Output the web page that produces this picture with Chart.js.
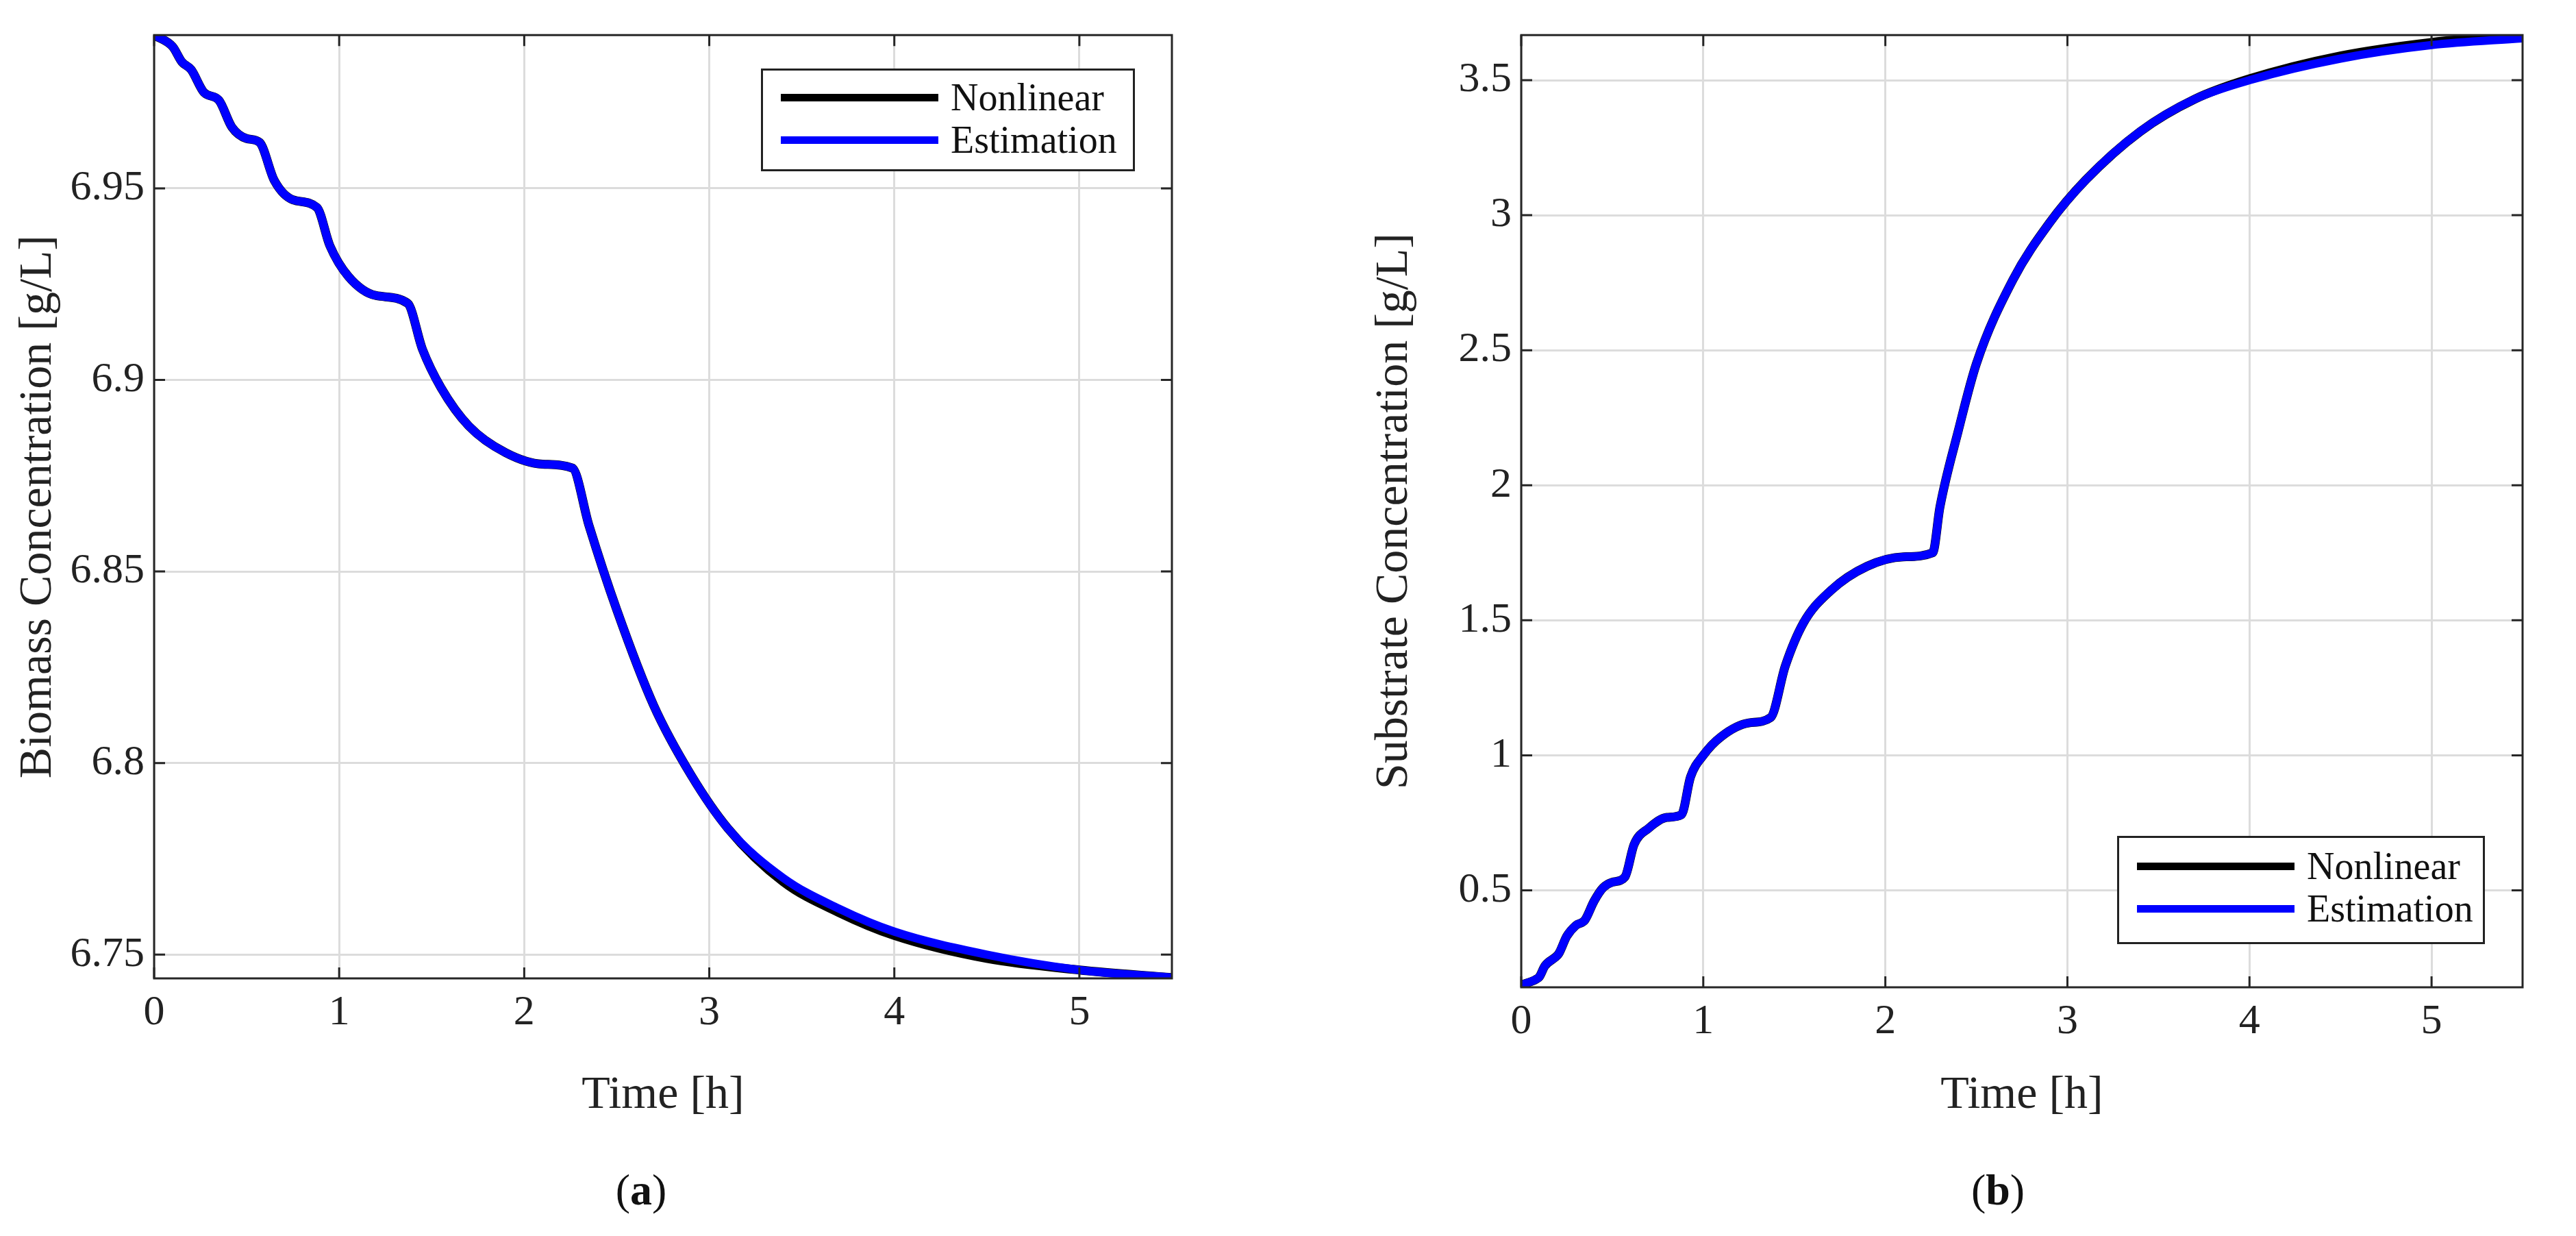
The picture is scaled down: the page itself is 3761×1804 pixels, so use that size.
<!DOCTYPE html>
<html>
<head>
<meta charset="utf-8">
<script src="https://cdn.jsdelivr.net/npm/chart.js@4.4.1/dist/chart.umd.min.js"></script>
<style>
  body { margin: 0; background: #fff; width: 3761px; height: 1804px; position: relative; overflow: hidden; font-family: "Liberation Serif", serif; }
  .box { position: absolute; }
  .legend { position: absolute; border: 3px solid #222; background: #fff; font-size: 56px; color: #111; }
  .legend div { display: flex; align-items: center; height: 62px; }
  .legend span.ln { display: inline-block; width: 230px; height: 11px; margin: 0 18px 0 26px; }
  .cap { position: absolute; font-size: 64px; color: #111; transform: translateX(-50%); }
</style>
</head>
<body>
<div class="box" id="boxA" style="left:0;top:0;width:1800px;height:1640px"><canvas id="chartA"></canvas></div>
<div class="box" id="boxB" style="left:1880px;top:0;width:1881px;height:1640px"><canvas id="chartB"></canvas></div>

<div class="legend" style="left:1111px;top:100px;width:546px;height:150px;padding-top:8px;box-sizing:border-box">
  <div><span class="ln" style="background:#000"></span>Nonlinear</div>
  <div><span class="ln" style="background:#0000ff"></span>Estimation</div>
</div>
<div class="legend" style="left:3091px;top:1220px;width:537px;height:158px;padding-top:10px;box-sizing:border-box">
  <div><span class="ln" style="background:#000"></span>Nonlinear</div>
  <div><span class="ln" style="background:#0000ff"></span>Estimation</div>
</div>
<div class="cap" style="left:936px;top:1700px">(<b>a</b>)</div>
<div class="cap" style="left:2917px;top:1700px">(<b>b</b>)</div>

<script>
const serif = "'Liberation Serif', 'Times New Roman', serif";

// Time points [h]
const timeA = [0, 0.1, 0.15, 0.2, 0.27, 0.35, 0.42, 0.5, 0.57, 0.65, 0.75, 0.88, 0.95, 1.05, 1.2, 1.37,
  1.45, 1.55, 1.7, 1.9, 2.1, 2.26, 2.35, 2.5, 2.7, 2.9, 3.1, 3.4, 3.7, 4.0, 4.5, 5.0, 5.5];
const biomassNonlinear = [6.990, 6.987, 6.983, 6.981, 6.975, 6.973, 6.966, 6.963, 6.962, 6.952, 6.947, 6.945,
  6.935, 6.927, 6.922, 6.920, 6.908, 6.898, 6.888, 6.881, 6.878, 6.877, 6.862, 6.840, 6.815, 6.797, 6.783,
  6.769, 6.761, 6.755, 6.749, 6.746, 6.744];
const biomassEstimation = [6.990, 6.987, 6.983, 6.981, 6.975, 6.973, 6.966, 6.963, 6.962, 6.952, 6.947, 6.945,
  6.935, 6.927, 6.922, 6.920, 6.908, 6.898, 6.888, 6.881, 6.878, 6.877, 6.862, 6.840, 6.815, 6.797, 6.783,
  6.770, 6.762, 6.756, 6.750, 6.746, 6.744];

const timeB = [0, 0.08, 0.1, 0.13, 0.2, 0.21, 0.25, 0.3, 0.35, 0.4, 0.45, 0.5, 0.57, 0.62, 0.7, 0.8, 0.88,
  0.93, 1.0, 1.1, 1.25, 1.37, 1.45, 1.55, 1.7, 1.9, 2.1, 2.26, 2.3, 2.4, 2.5, 2.7, 2.9, 3.1, 3.4, 3.7, 4.0, 4.5, 5.0, 5.5];
const substrateNonlinear = [0.15, 0.17, 0.18, 0.22, 0.26, 0.27, 0.33, 0.37, 0.39, 0.46, 0.51, 0.53, 0.55,
  0.67, 0.73, 0.77, 0.78, 0.92, 1.00, 1.07, 1.12, 1.14, 1.33, 1.49, 1.61, 1.70, 1.735, 1.75, 1.92, 2.2, 2.45,
  2.76, 2.97, 3.13, 3.31, 3.43, 3.505, 3.59, 3.64, 3.67];
const substrateEstimation = [0.15, 0.17, 0.18, 0.22, 0.26, 0.27, 0.33, 0.37, 0.39, 0.46, 0.51, 0.53, 0.55,
  0.67, 0.73, 0.77, 0.78, 0.92, 1.00, 1.07, 1.12, 1.14, 1.33, 1.49, 1.61, 1.70, 1.735, 1.75, 1.92, 2.2, 2.45,
  2.76, 2.97, 3.13, 3.31, 3.43, 3.50, 3.58, 3.63, 3.655];

const xTicks = [0, 1, 2, 3, 4, 5];
const yTicksA = [6.75, 6.8, 6.85, 6.9, 6.95];
const yTicksB = [0.5, 1, 1.5, 2, 2.5, 3, 3.5];

const toXY = (xs, ys) => xs.map((x, i) => ({ x: x, y: ys[i] }));

// draws full box frame with inward ticks like MATLAB
const framePlugin = {
  id: 'frame',
  afterDatasetsDraw(chart) {
    const { ctx, chartArea: a, scales } = chart;
    ctx.save();
    ctx.strokeStyle = '#262626';
    ctx.lineWidth = 3;
    ctx.strokeRect(a.left, a.top, a.right - a.left, a.bottom - a.top);
    ctx.beginPath();
    scales.x.ticks.forEach(t => {
      const px = scales.x.getPixelForValue(t.value);
      ctx.moveTo(px, a.bottom); ctx.lineTo(px, a.bottom - 16);
      ctx.moveTo(px, a.top); ctx.lineTo(px, a.top + 16);
    });
    scales.y.ticks.forEach(t => {
      const py = scales.y.getPixelForValue(t.value);
      ctx.moveTo(a.left, py); ctx.lineTo(a.left + 16, py);
      ctx.moveTo(a.right, py); ctx.lineTo(a.right - 16, py);
    });
    ctx.stroke();
    ctx.restore();
  }
};

function makeChart(id, time, nonlin, est, yMin, yMax, yTicks, yTitle, yWidth, xHeight, pad) {
  return new Chart(document.getElementById(id), {
    type: 'line',
    data: {
      datasets: [
        { label: 'Estimation', data: toXY(time, est), borderColor: '#0000ff', borderWidth: 12, pointRadius: 0, cubicInterpolationMode: 'monotone', order: 1 },
        { label: 'Nonlinear', data: toXY(time, nonlin), borderColor: '#000000', borderWidth: 13, pointRadius: 0, cubicInterpolationMode: 'monotone', order: 2 }
      ]
    },
    options: {
      responsive: true,
      maintainAspectRatio: false,
      animation: false,
      layout: { padding: pad },
      plugins: { legend: { display: false }, tooltip: { enabled: false } },
      scales: {
        x: {
          type: 'linear', min: 0, max: 5.5,
          afterBuildTicks: s => { s.ticks = xTicks.map(v => ({ value: v })); },
          afterFit: s => { s.height = xHeight; },
          grid: { color: '#dcdcdc', lineWidth: 3, drawTicks: false },
          border: { display: false },
          ticks: { color: '#222', font: { family: serif, size: 62 }, padding: 14 },
          title: { display: true, text: 'Time [h]', color: '#222', font: { family: serif, size: 68 }, padding: { top: 10, bottom: 0 } }
        },
        y: {
          type: 'linear', min: yMin, max: yMax,
          afterBuildTicks: s => { s.ticks = yTicks.map(v => ({ value: v })); },
          afterFit: s => { s.width = yWidth; },
          grid: { color: '#dcdcdc', lineWidth: 3, drawTicks: false },
          border: { display: false },
          ticks: { color: '#222', font: { family: serif, size: 62 }, padding: 14, callback: v => String(Math.round(v * 100) / 100) },
          title: { display: true, text: yTitle, color: '#222', font: { family: serif, size: 68 }, padding: 0 }
        }
      }
    },
    plugins: [framePlugin]
  });
}

makeChart('chartA', timeA, biomassNonlinear, biomassEstimation, 6.7438, 6.990, yTicksA,
  'Biomass Concentration [g/L]', 210, 212, { top: 36, right: 89, left: 15, bottom: 0 });
makeChart('chartB', timeB, substrateNonlinear, substrateEstimation, 0.141, 3.667, yTicksB,
  'Substrate Concentration [g/L]', 226, 199, { top: 25, right: 78, left: 115, bottom: 0 });
</script>
</body>
</html>
